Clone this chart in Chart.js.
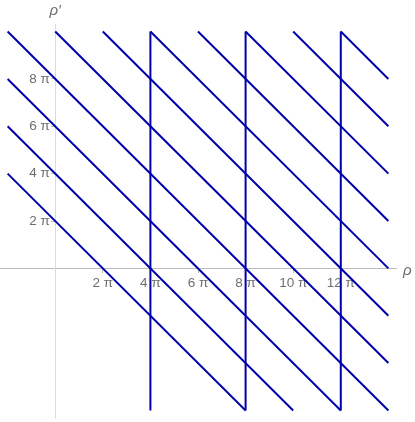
<!DOCTYPE html>
<html>
<head>
<meta charset="utf-8">
<script src="https://cdn.jsdelivr.net/npm/chart.js@4.4.1/dist/chart.umd.min.js"></script>
<style>
  html, body { margin: 0; padding: 0; background: #fff; }
  #wrap { width: 415px; height: 422px; }
</style>
</head>
<body>
<div id="wrap"><canvas id="grafico"></canvas></div>
<script>
// values in units of pi
const diagStartRho  = [-2, -2, -2, -2, 0, 2, 4, 6, 8, 10, 12];
const diagStartRhoP = [4, 6, 8, 10, 10, 10, 10, 10, 10, 10, 10];
const diagEndRho    = [8, 10, 12, 14, 14, 14, 14, 14, 14, 14, 14];
const diagEndRhoP   = [-6, -6, -6, -6, -4, -2, 0, 2, 4, 6, 8];
const verticalRho   = [4, 8, 12];
const verticalRhoP  = [-6, 10];
const xTicks = [2, 4, 6, 8, 10, 12];
const yTicks = [2, 4, 6, 8];

const cor = 'rgb(0,0,170)';
const cinza = '#6e6e6e';

const datasets = [];
diagStartRho.forEach((x0, i) => {
    datasets.push({
        data: [{ x: x0, y: diagStartRhoP[i] }, { x: diagEndRho[i], y: diagEndRhoP[i] }]
    });
});
verticalRho.forEach(x => {
    datasets.push({
        data: [{ x: x, y: verticalRhoP[0] }, { x: x, y: verticalRhoP[1] }]
    });
});
datasets.forEach(d => {
    d.showLine = true;
    d.borderColor = cor;
    d.borderWidth = 2;
    d.pointRadius = 0;
    d.fill = false;
});

// eixos no meio: sem espaço reservado
const semEspaco = s => {
    if (s.isHorizontal()) s.height = 0; else s.width = 0;
    s.paddingTop = 0; s.paddingBottom = 0; s.paddingLeft = 0; s.paddingRight = 0;
};

// nomes dos eixos
const rotulos = {
    id: 'rotulos',
    afterDraw(chart) {
        const c = chart.ctx;
        const sx = chart.scales.x, sy = chart.scales.y;
        c.save();
        c.fillStyle = cinza;
        c.font = 'italic 15px "Liberation Sans"';
        c.textBaseline = 'middle';
        c.textAlign = 'left';
        c.fillText('ρ', 403, sy.getPixelForValue(0) + 2);
        c.textAlign = 'center';
        c.fillText('ρ′', sx.getPixelForValue(0), 11);
        c.restore();
    }
};

new Chart(document.getElementById('grafico'), {
    type: 'scatter',
    data: { datasets: datasets },
    options: {
        responsive: true,
        maintainAspectRatio: false,
        animation: false,
        layout: { padding: { left: 0, top: 24, right: 19, bottom: 4 } },
        plugins: { legend: { display: false }, tooltip: { enabled: false } },
        scales: {
            x: {
                type: 'linear',
                min: -2.32, max: 14.32,
                position: { y: 0 },
                afterFit: semEspaco,
                afterBuildTicks: s => { s.ticks = xTicks.map(v => ({ value: v })); },
                border: { display: true, color: '#bdbdbd', width: 1 },
                grid: { drawOnChartArea: false, tickLength: 4, color: '#bdbdbd' },
                ticks: {
                    color: cinza, padding: 3, maxRotation: 0,
                    font: { family: '"Liberation Sans"', size: 13.5 },
                    callback: v => v + ' π'
                }
            },
            y: {
                type: 'linear',
                min: -6.32, max: 10.32,
                position: { x: 0 },
                afterFit: semEspaco,
                afterBuildTicks: s => { s.ticks = yTicks.map(v => ({ value: v })); },
                border: { display: true, color: '#dcdcdc', width: 1 },
                grid: { drawOnChartArea: false, tickLength: 4, color: '#bdbdbd' },
                ticks: {
                    color: cinza,
                    font: { family: '"Liberation Sans"', size: 13.5 },
                    // espaço no fim para afastar do eixo
                    callback: v => v + ' π\u2009\u2009'
                }
            }
        }
    },
    plugins: [rotulos]
});
</script>
</body>
</html>
